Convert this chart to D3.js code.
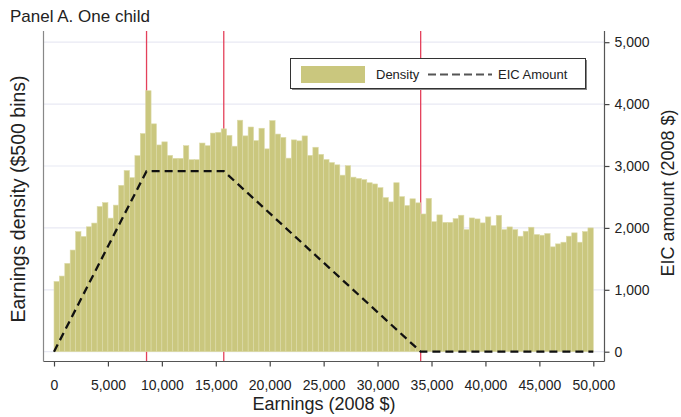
<!DOCTYPE html>
<html lang="en">
<head>
<meta charset="UTF-8">
<title>Panel A. One child</title>
<script src="https://d3js.org/d3.v7.min.js"></script>
<style>
  body { margin: 0; background: #fff; }
  svg text { font-family: "Liberation Sans", Arial, sans-serif; fill: #222; }
</style>
</head>
<body>
<script>
// earnings histogram, $500 bins from 0 to 50,000 (heights read on the EIC-amount scale)
var binWidth = 500;
var density = [
  1135, 1222, 1427, 1642, 1940, 1862, 2018, 2078, 2346, 2408,
  2158, 2368, 2688, 2927, 2812, 3167, 3525, 4216, 3681, 3340,
  3390, 3172, 3124, 3124, 3328, 3102, 3102, 3371, 3328, 3532,
  3543, 3600, 3495, 3320, 3740, 3487, 3630, 3410, 3610, 3277,
  3734, 3516, 3462, 3127, 3422, 3406, 3486, 3172, 3303, 3188,
  3105, 3056, 3019, 2852, 3005, 2820, 2800, 2780, 2730, 2710,
  2650, 2490, 2420, 2730, 2505, 2362, 2470, 2405, 2225, 2478,
  2100, 2210, 2090, 2090, 2150, 2205, 1973, 2161, 2145, 2081,
  2178, 2038, 2204, 1973, 2016, 1973, 1866, 1946, 2011, 1893,
  1882, 1909, 1694, 1742, 1769, 1866, 1920, 1769, 1941, 2000
];
// EIC schedule, one child, 2008
var eicEarnings = [0, 8580, 15740, 33995, 50000];
var eicAmount   = [0, 2917, 2917, 0, 0];
var kinkPoints  = [8580, 15740, 33995];
var xTicks = d3.range(0, 50001, 5000);
var yTicks = [0, 1000, 2000, 3000, 4000, 5000];

var W = 681, H = 417;
var svg = d3.select("body").append("svg").attr("width", W).attr("height", H);

var x = d3.scaleLinear().domain([0, 50000]).range([54, 593.3]);
var yEic = d3.scaleLinear().domain([0, 5000]).range([351.7, 42.2]);
var yDen = d3.scaleLinear().domain([0, 5000]).range([351.7, 42.2]);

var plotL = 43.5, plotR = 604.5, plotT = 31, plotB = 361.5;

// gridlines
svg.append("g").selectAll("line").data(yTicks).enter().append("line")
  .attr("x1", plotL).attr("x2", plotR)
  .attr("y1", function(d) { return yEic(d); }).attr("y2", function(d) { return yEic(d); })
  .attr("stroke", "#e8e9f3").attr("stroke-width", 1.2);

// red kink lines
svg.append("g").selectAll("line").data(kinkPoints).enter().append("line")
  .attr("x1", function(d) { return x(d); }).attr("x2", function(d) { return x(d); })
  .attr("y1", plotT).attr("y2", plotB)
  .attr("stroke", "#e4405a").attr("stroke-width", 1.3);

// bars
svg.append("g").selectAll("rect").data(density).enter().append("rect")
  .attr("x", function(d, i) { return x(i * binWidth); })
  .attr("width", x(binWidth) - x(0))
  .attr("y", function(d) { return yDen(d); })
  .attr("height", function(d) { return yDen(0) - yDen(d); })
  .attr("fill", "#cac77e")
  .attr("stroke", "#dddba9").attr("stroke-width", 0.6);

// EIC amount
var line = d3.line()
  .x(function(d) { return x(d[0]); })
  .y(function(d) { return yEic(d[1]); });
svg.append("path")
  .datum(d3.zip(eicEarnings, eicAmount))
  .attr("d", line)
  .attr("fill", "none").attr("stroke", "#111")
  .attr("stroke-width", 2.3).attr("stroke-dasharray", "8,5");

// axes
var xAxis = svg.append("g").attr("transform", "translate(0," + plotB + ")")
  .call(d3.axisBottom(x).tickValues(xTicks).tickFormat(d3.format(",")).tickSize(5).tickSizeOuter(0));
xAxis.select(".domain").remove();
svg.append("line").attr("x1", plotL).attr("x2", plotR).attr("y1", plotB).attr("y2", plotB)
  .attr("stroke", "#555").attr("stroke-width", 1.2);

var yAxis = svg.append("g").attr("transform", "translate(" + plotR + ",0)")
  .call(d3.axisRight(yEic).tickValues(yTicks).tickFormat(d3.format(",")).tickSize(5).tickSizeOuter(0));
yAxis.select(".domain").remove();
svg.append("line").attr("x1", plotR).attr("x2", plotR).attr("y1", plotT).attr("y2", plotB)
  .attr("stroke", "#555").attr("stroke-width", 1.2);
svg.append("line").attr("x1", plotL).attr("x2", plotL).attr("y1", plotT).attr("y2", plotB)
  .attr("stroke", "#888").attr("stroke-width", 1.2);

svg.selectAll(".tick line").attr("stroke", "#444").attr("stroke-width", 1.2);
svg.selectAll(".tick text").style("font-size", "14px").style("font-family", "Liberation Sans, Arial, sans-serif").attr("fill", "#222");
xAxis.selectAll(".tick text").attr("y", 28).attr("dy", 0);
yAxis.selectAll(".tick text").attr("x", 10);

// titles
svg.append("text").attr("x", 10).attr("y", 21.5).style("font-size", "17px").text("Panel A. One child");
svg.append("text").attr("x", 324).attr("y", 410).attr("text-anchor", "middle")
  .style("font-size", "18px").text("Earnings (2008 $)");
svg.append("text").attr("transform", "translate(24.5," + 199 + ") rotate(-90)")
  .attr("text-anchor", "middle").style("font-size", "19.5px").text("Earnings density ($500 bins)");
svg.append("text").attr("transform", "translate(674," + 193 + ") rotate(-90)")
  .attr("text-anchor", "middle").style("font-size", "18px").text("EIC amount (2008 $)");

// legend
var lg = svg.append("g");
lg.append("rect").attr("x", 292).attr("y", 60).attr("width", 295).attr("height", 30).attr("fill", "#888");
lg.append("rect").attr("x", 290.5).attr("y", 58.5).attr("width", 295).attr("height", 30)
  .attr("fill", "#fff").attr("stroke", "#333").attr("stroke-width", 1);
lg.append("rect").attr("x", 301).attr("y", 66).attr("width", 64).attr("height", 17).attr("fill", "#cac77e");
lg.append("text").attr("x", 376).attr("y", 79).style("font-size", "13px").text("Density");
lg.append("line").attr("x1", 428).attr("x2", 492).attr("y1", 74.5).attr("y2", 74.5)
  .attr("stroke", "#555").attr("stroke-width", 2).attr("stroke-dasharray", "8,4");
lg.append("text").attr("x", 498).attr("y", 79).style("font-size", "13px").text("EIC Amount");
</script>
</body>
</html>
